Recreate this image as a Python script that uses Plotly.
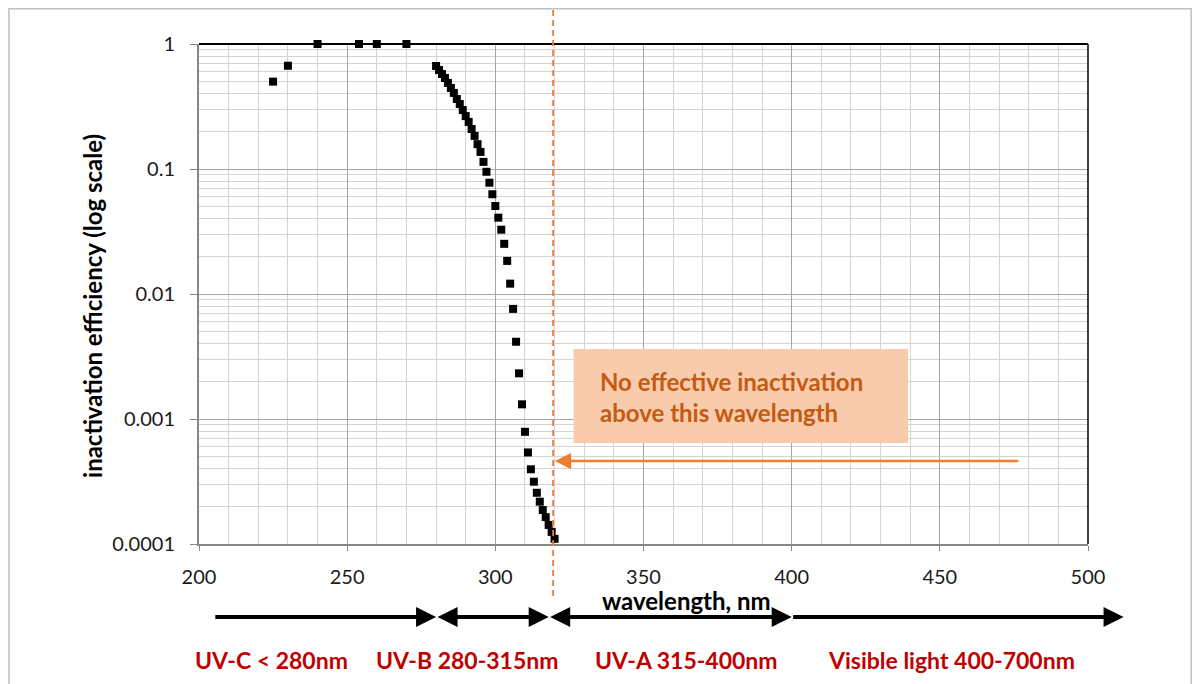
import plotly.graph_objects as go

# ---- data ----
wavelength_nm = [225, 230, 240, 254, 260, 270,
                 280, 281, 282, 283, 284, 285, 286, 287, 288, 289, 290,
                 291, 292, 293, 294, 295, 296, 297, 298, 299, 300,
                 301, 302, 303, 304, 305, 306, 307, 308, 309, 310,
                 311, 312, 313, 314, 315, 316, 317, 318, 319, 320]
efficiency = [0.50, 0.67, 1.0, 1.0, 1.0, 1.0,
              0.667, 0.619, 0.575, 0.535, 0.488, 0.445, 0.406, 0.363, 0.331, 0.296, 0.265,
              0.238, 0.209, 0.184, 0.158, 0.137, 0.114, 0.095, 0.0777, 0.0628, 0.0506,
              0.0408, 0.0327, 0.0252, 0.0184, 0.0121, 0.0076, 0.00415, 0.00232, 0.00131, 0.00079,
              0.00054, 0.000396, 0.000315, 0.000257, 0.000218, 0.000187, 0.000164, 0.000142, 0.000125, 0.000110]

cutoff_nm = 319.5
band_edges = [205, 280, 318, 400, 512]   # arrow ends along the bottom (nm)
band_labels = ["UV-C < 280nm", "UV-B 280-315nm", "UV-A 315-400nm", "Visible light 400-700nm"]
band_label_x = [0.081, 0.3015, 0.548, 0.847]
note_text = "No effective inactivation<br>above this wavelength"
x_title = "wavelength, nm"
y_title = "inactivation efficiency (log scale)"

FONT = "Lato"
ORANGE = "#ED7D31"
DARKRED = "#C00000"

fig = go.Figure()
fig.add_trace(go.Scatter(
    x=wavelength_nm, y=efficiency, mode="markers",
    marker=dict(symbol="square", size=8, color="black"),
    cliponaxis=False, showlegend=False))

# the page body has an 8px margin, so the figure is 8px smaller and offset
fig.update_layout(
    width=1192, height=676,
    margin=dict(l=191, r=112, t=36, b=140, autoexpand=False),
    paper_bgcolor="white", plot_bgcolor="white",
    font=dict(family=FONT, size=20, color="#1a1a1a"),
    xaxis=dict(range=[200, 500], tick0=200, dtick=50, showgrid=True,
               gridcolor="#A6A6A6", gridwidth=1,
               minor=dict(dtick=10, showgrid=True, gridcolor="#D4D4D4", gridwidth=1),
               showline=True, linecolor="#868686", linewidth=2,
               ticks="outside", ticklen=5, tickcolor="#868686",
               ticklabelstandoff=9,
               zeroline=False, tickfont=dict(size=20)),
    yaxis=dict(type="log", range=[-4, 0], tickmode="linear", tick0=0, dtick=1,
               exponentformat="none", showgrid=True,
               gridcolor="#A6A6A6", gridwidth=1,
               minor=dict(dtick="D1", showgrid=True, gridcolor="#D4D4D4", gridwidth=1),
               showline=True, linecolor="#868686", linewidth=2,
               ticks="outside", ticklen=7, tickcolor="#868686",
               ticklabelstandoff=11,
               zeroline=False, tickfont=dict(size=20)),
)

shapes = [
    # top & right border of plot area
    dict(type="line", xref="paper", yref="paper", x0=0, x1=1, y0=1, y1=1,
         line=dict(color="black", width=2)),
    dict(type="line", xref="paper", yref="paper", x0=1, x1=1, y0=0, y1=1,
         line=dict(color="black", width=1.5)),
    # outer chart border
    dict(type="rect", xref="paper", yref="paper", x0=-0.2138, x1=1.116, y0=-0.33, y1=1.0705,
         line=dict(color="#BFBFBF", width=1.5), fillcolor="rgba(0,0,0,0)"),
    # cutoff dashed line
    dict(type="line", xref="x", yref="paper", x0=cutoff_nm, x1=cutoff_nm, y0=-0.104, y1=1.068,
         line=dict(color=ORANGE, width=1.8, dash="6px,4px")),
    # note box
    dict(type="rect", xref="x", yref="paper", x0=326.4, x1=439.3, y0=0.202, y1=0.39,
         fillcolor="#F8CBAD", line=dict(width=0)),
]
fig.update_layout(shapes=shapes)

ann = []
ann.append(dict(xref="x", yref="paper", x=334.7, y=0.294, xanchor="left", yanchor="middle",
                text=note_text, showarrow=False, align="left",
                font=dict(family=FONT, size=24, color="#C55A11", weight="bold")))
# orange arrow pointing at the cutoff
ann.append(dict(xref="x", yref="paper", x=cutoff_nm + 0.6, y=0.166, axref="x", ayref="pixel",
                ax=477, ay=0, text="", showarrow=True, arrowhead=2, arrowsize=1.3,
                arrowwidth=2.5, arrowcolor=ORANGE))
# axis titles
ann.append(dict(xref="paper", yref="paper", x=-0.1204, y=0.476, xanchor="center",
                yanchor="middle", text=y_title, textangle=-90,
                showarrow=False, font=dict(family=FONT, size=24, color="black", weight="bold")))
ann.append(dict(xref="paper", yref="paper", x=0.548, y=-0.112, xanchor="center",
                yanchor="middle", text=x_title,
                showarrow=False, font=dict(family=FONT, size=24, color="black", weight="bold")))
# band arrows
y_arrow = -0.146
for i in range(4):
    both = i in (1, 2)
    ann.append(dict(xref="x", yref="paper", x=band_edges[i + 1], y=y_arrow,
                    axref="x", ayref="pixel", ax=band_edges[i], ay=0, text="",
                    showarrow=True, arrowhead=2, arrowsize=1, arrowwidth=4,
                    arrowcolor="black",
                    arrowside="end+start" if both else "end",
                    startarrowhead=2, startarrowsize=1))
# band labels
for lbl, xp in zip(band_labels, band_label_x):
    ann.append(dict(xref="paper", yref="paper", x=xp, y=-0.232, xanchor="center",
                    yanchor="middle", text=lbl, showarrow=False,
                    font=dict(family=FONT, size=23, color=DARKRED, weight="bold")))
fig.update_layout(annotations=ann)

fig.write_html("out.html")
